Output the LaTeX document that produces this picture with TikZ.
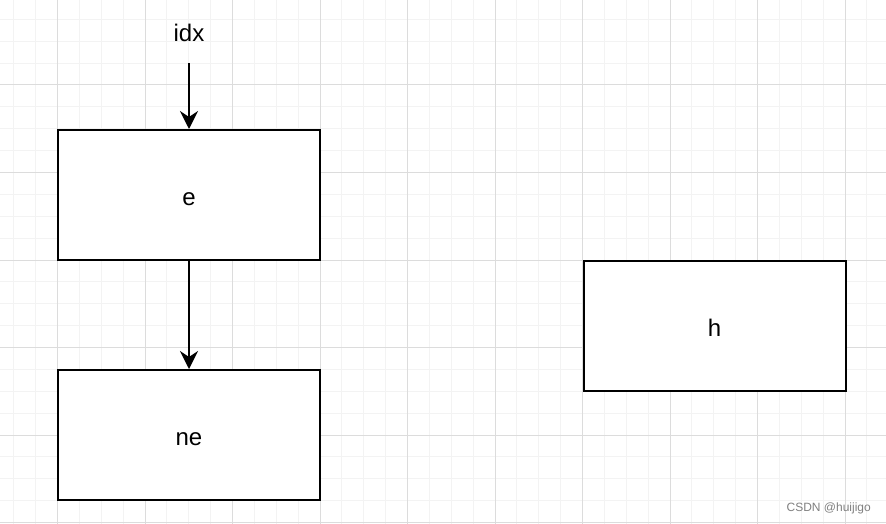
\documentclass[tikz,border=0pt]{standalone}
\usepackage{fontspec}
\setmainfont{Liberation Sans}
\usetikzlibrary{arrows.meta}
\definecolor{minorgrid}{HTML}{F3F3F3}
\definecolor{majorgrid}{HTML}{DCDCDC}
\tikzset{
  box/.style={draw=black, line width=2pt, fill=white, minimum width=262pt, minimum height=130pt, inner sep=0pt, text height=20pt, text depth=0pt, font=\fontsize{24}{28}\selectfont},
  conn/.style={line width=2pt, -{Stealth[length=18pt,width=18pt,inset=6pt]}},
  lbl/.style={font=\fontsize{24}{28}\selectfont, inner sep=0pt}
}
\begin{document}
\begin{tikzpicture}[x=1pt,y=-1pt]
\useasboundingbox (0,0) rectangle (886,524);
\fill[white] (0,0) rectangle (886,524);
% minor grid
\foreach \i in {0,...,40} {
  \draw[minorgrid, line width=1pt] ({13.75+\i*21.875},0) -- ({13.75+\i*21.875},524);
}
\foreach \i in {0,...,24} {
  \draw[minorgrid, line width=1pt] (0,{19.375+\i*21.875}) -- (886,{19.375+\i*21.875});
}
% major grid
\foreach \i in {0,...,9} {
  \draw[majorgrid, line width=1pt] ({57.5+\i*87.5},0) -- ({57.5+\i*87.5},524);
}
\foreach \i in {0,...,5} {
  \draw[majorgrid, line width=1pt] (0,{85+\i*87.5}) -- (886,{85+\i*87.5});
}
\node[box] (e) at (189,195) {e};
\node[box] (ne) at (189,435) {ne};
\node[box] (h) at (714.5,326) {h};
\node[lbl] (idx) at (189,33) {idx};
\coordinate (src) at (189,63);
\draw[conn] (src) -- (e.north);
\draw[conn] (e.south) -- (ne.north);
\node[font=\fontsize{12}{14}\selectfont, text=gray, anchor=east, inner sep=0pt] (wm) at (871,508) {CSDN @huijigo};
\end{tikzpicture}
\end{document}
